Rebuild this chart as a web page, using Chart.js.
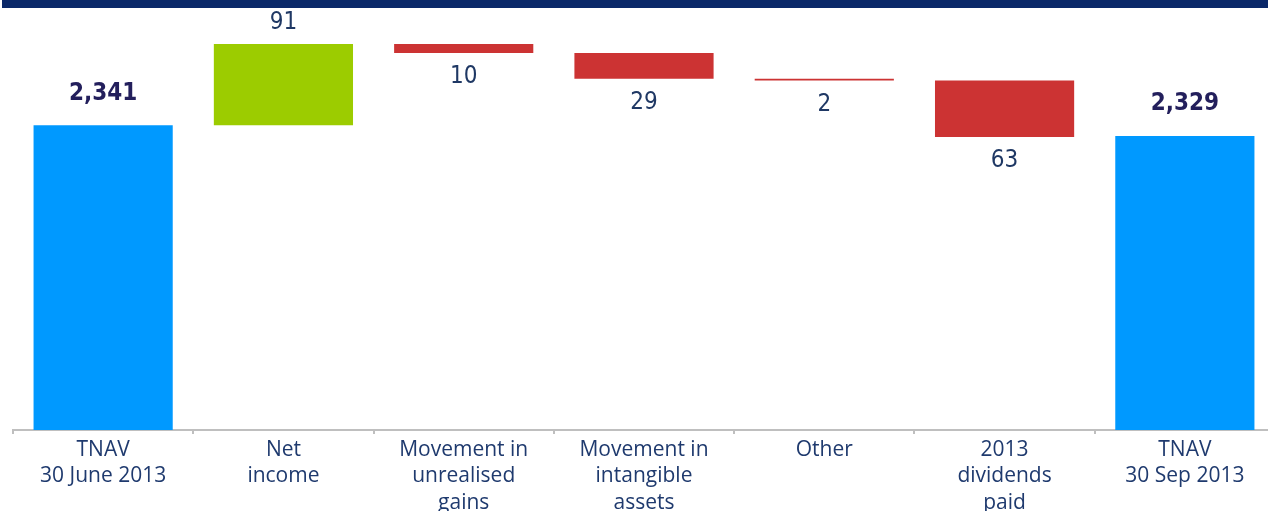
<!DOCTYPE html>
<html>
<head>
<meta charset="utf-8">
<script src="https://cdn.jsdelivr.net/npm/chart.js@4"></script>
<style>
  html, body { margin: 0; padding: 0; background: #fff; overflow: hidden; }
  #wrap { position: relative; width: 1275px; height: 511px; }
</style>
</head>
<body>
<div id="wrap"><canvas id="myChart"></canvas></div>
<script>
// waterfall data: opening total, movements, closing total
const categories = [
    ['TNAV', '30 June 2013'],
    ['Net', 'income'],
    ['Movement in', 'unrealised', 'gains'],
    ['Movement in', 'intangible', 'assets'],
    ['Other'],
    ['2013', 'dividends', 'paid'],
    ['TNAV', '30 Sep 2013']
];
const values = [2341, 91, -10, -29, -2, -63, 2329];
const kinds = ['total', 'up', 'down', 'down', 'down', 'down', 'total'];
const yMin = 2000;
const yMax = 2470;

const colours = { total: '#0099FF', up: '#9CCC00', down: '#CC3333' };

// build floating bars from the running total
let running = 0;
const bars = values.map((v, i) => {
    if (kinds[i] === 'total') {
        running = v;
        return [yMin, v];
    }
    const start = running;
    running = running + v;
    return [start, running];
});

const valueLabels = {
    id: 'valueLabels',
    beforeDraw(chart) {
        const ctx = chart.ctx;
        ctx.save();
        ctx.fillStyle = '#0A2869';
        ctx.fillRect(2, 0, chart.width, 8);
        ctx.restore();
    },
    afterDatasetsDraw(chart) {
        const ctx = chart.ctx;
        const meta = chart.getDatasetMeta(0);
        ctx.save();
        ctx.textAlign = 'center';
        ctx.textBaseline = 'middle';
        meta.data.forEach((bar, i) => {
            const top = Math.min(bar.y, bar.base);
            const bottom = Math.max(bar.y, bar.base);
            const v = values[i];
            if (kinds[i] === 'total') {
                ctx.font = 'bold 24px "DejaVu Sans Condensed", "DejaVu Sans", sans-serif';
                ctx.fillStyle = '#231F5C';
                ctx.fillText(v.toLocaleString('en-US'), bar.x, top - 32);
            } else if (kinds[i] === 'up') {
                ctx.font = '24px "DejaVu Sans Condensed", "DejaVu Sans", sans-serif';
                ctx.fillStyle = '#1F3864';
                ctx.fillText(String(Math.abs(v)), bar.x, top - 21);
            } else {
                ctx.font = '24px "DejaVu Sans Condensed", "DejaVu Sans", sans-serif';
                ctx.fillStyle = '#1F3864';
                ctx.fillText(String(Math.abs(v)), bar.x, bottom + 24);
            }
        });
        ctx.restore();
    }
};

const ctx = document.getElementById('myChart').getContext('2d');
// eslint-disable-next-line no-undef
new Chart(ctx, {
    type: 'bar',
    data: {
        labels: categories,
        datasets: [{
            data: bars,
            backgroundColor: kinds.map(k => colours[k]),
            borderWidth: 0,
            categoryPercentage: 1,
            barPercentage: 0.772
        }]
    },
    options: {
        responsive: true,
        maintainAspectRatio: false,
        animation: false,
        layout: { padding: { top: 10, left: 13, right: 0, bottom: 0 } },
        plugins: {
            legend: { display: false },
            tooltip: { enabled: false }
        },
        scales: {
            x: {
                grid: {
                    offset: true,
                    drawOnChartArea: false,
                    drawTicks: true,
                    tickLength: 4,
                    color: '#BFBFBF',
                    lineWidth: 2
                },
                border: { color: '#BFBFBF', width: 2 },
                ticks: {
                    padding: 3,
                    maxRotation: 0,
                    autoSkip: false,
                    color: '#1F3A6E',
                    font: { family: '"Open Sans", sans-serif', size: 21, lineHeight: 1.25 }
                },
                afterFit(scale) {
                    scale.height = 81;
                }
            },
            y: {
                display: false,
                min: yMin,
                max: yMax
            }
        }
    },
    plugins: [valueLabels]
});
</script>
</body>
</html>
